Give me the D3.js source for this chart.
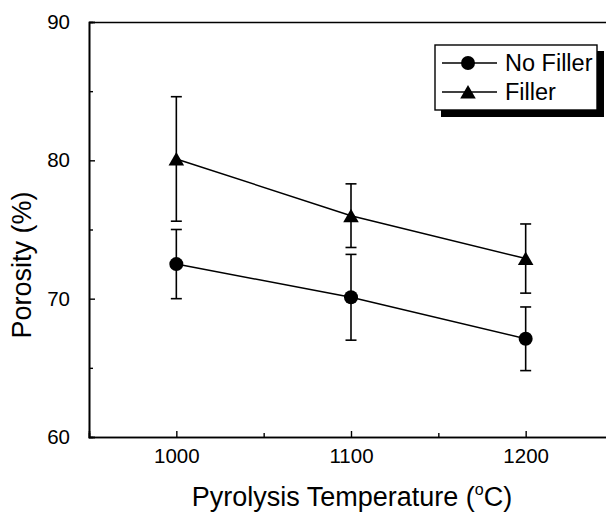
<!DOCTYPE html>
<html><head><meta charset="utf-8">
<script src="https://cdn.jsdelivr.net/npm/d3@7"></script>
<style>body{margin:0;background:#fff}svg{display:block}text{font-family:"Liberation Sans",Arial,sans-serif;fill:#000}</style>
</head><body><svg id="c" width="606" height="513"></svg>
<script>
const temperatures = [1000, 1100, 1200];
const noFiller = [72.5, 70.1, 67.1];
const noFillerErr = [2.5, 3.1, 2.3];
const filler = [80.1, 76.0, 72.9];
const fillerErr = [4.5, 2.3, 2.5];
const xTicks = [1000, 1100, 1200];
const xMinor = [1050, 1150];
const yTicks = [60, 70, 80, 90];
const yMinor = [65, 75, 85];
const seriesNames = ["No Filler", "Filler"];

const svg = d3.select("#c");
const x = d3.scaleLinear().domain([950, 1250]).range([89, 613]);
const y = d3.scaleLinear().domain([60, 90]).range([437, 22]);

// axes
svg.append("g").attr("transform", "translate(0,437)")
  .call(d3.axisBottom(x).tickValues(xTicks).tickSize(-6).tickPadding(11).tickFormat(d3.format("d")));
svg.append("g").attr("transform", "translate(0,437)")
  .call(d3.axisBottom(x).tickValues(xMinor).tickSize(-4).tickFormat(""));
svg.append("g").attr("transform", "translate(89,0)")
  .call(d3.axisLeft(y).tickValues(yTicks).tickSize(-6).tickPadding(19));
svg.append("g").attr("transform", "translate(89,0)")
  .call(d3.axisLeft(y).tickValues(yMinor).tickSize(-4).tickFormat(""));
svg.append("g").attr("transform", "translate(0,22)")
  .call(d3.axisTop(x).tickValues([]).tickSizeOuter(0));
svg.selectAll(".domain").attr("stroke", "#000").attr("stroke-width", 1.6);
svg.selectAll(".tick line").attr("stroke", "#000").attr("stroke-width", 1.4);
svg.selectAll(".tick text").attr("font-size", 20.5).attr("font-family", "Liberation Sans, Arial, sans-serif");

// titles
svg.append("text").attr("x", 352).attr("y", 506).attr("text-anchor", "middle").attr("font-size", 27)
  .call(t => { t.append("tspan").text("Pyrolysis Temperature (");
    t.append("tspan").text("o").attr("font-size", 16).attr("dy", -11);
    t.append("tspan").text("C)").attr("dy", 11); });
svg.append("text").attr("transform", "translate(31,265) rotate(-90)").attr("text-anchor", "middle")
  .attr("font-size", 27).text("Porosity (%)");

const line = d3.line().x((d, i) => x(temperatures[i])).y(d => y(d));
const tri = d3.symbol().type(d3.symbolTriangle).size(105);
const series = [
  {vals: noFiller, err: noFillerErr, marker: "circle"},
  {vals: filler, err: fillerErr, marker: "triangle"}
];
series.forEach(s => {
  svg.append("path").attr("d", line(s.vals)).attr("fill", "none").attr("stroke", "#000").attr("stroke-width", 1.5);
  s.vals.forEach((v, i) => {
    const cx = x(temperatures[i]);
    const g = svg.append("g");
    g.append("line").attr("x1", cx).attr("x2", cx).attr("y1", y(v - s.err[i])).attr("y2", y(v + s.err[i]))
      .attr("stroke", "#000").attr("stroke-width", 1.6);
    [v - s.err[i], v + s.err[i]].forEach(e => g.append("line").attr("x1", cx - 5.5).attr("x2", cx + 5.5)
      .attr("y1", y(e)).attr("y2", y(e)).attr("stroke", "#000").attr("stroke-width", 1.6));
    if (s.marker === "circle") g.append("circle").attr("cx", cx).attr("cy", y(v)).attr("r", 7).attr("fill", "#000");
    else g.append("path").attr("d", tri).attr("transform", `translate(${cx},${y(v)+2})`).attr("fill", "#000");
  });
});

// legend
const lg = svg.append("g");
lg.append("rect").attr("x", 441).attr("y", 51).attr("width", 163).attr("height", 66).attr("fill", "#000");
lg.append("rect").attr("x", 435).attr("y", 45).attr("width", 162).attr("height", 65).attr("fill", "#fff")
  .attr("stroke", "#000").attr("stroke-width", 1.4);
seriesNames.forEach((n, i) => {
  const ly = 63 + i * 29;
  lg.append("line").attr("x1", 442).attr("x2", 497).attr("y1", ly).attr("y2", ly).attr("stroke", "#000").attr("stroke-width", 1.5);
  if (i === 0) lg.append("circle").attr("cx", 468).attr("cy", ly).attr("r", 7).attr("fill", "#000");
  else lg.append("path").attr("d", tri).attr("transform", `translate(468,${ly+2})`).attr("fill", "#000");
  lg.append("text").attr("x", 505).attr("y", ly + 8).attr("font-size", 23.5).text(n);
});
</script></body></html>
